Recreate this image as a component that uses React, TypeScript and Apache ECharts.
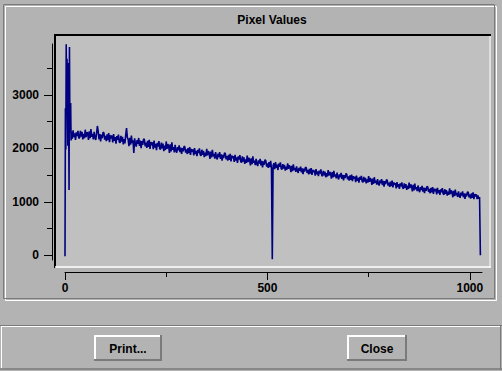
import React, { useEffect, useRef } from "react";
import * as echarts from "echarts";

// Pixel values
// first samples (x = 0 .. 15, one per pixel index)
const headValues = [-20, 2750, 1980, 3950, 2600, 3680, 2900, 2050, 3600, 2700, 1220, 3900, 2500, 2300, 2850, 2150];
// sampled body (x = 16, 18, 20, ... 1024)
const BODY_START = 16;
const BODY_STEP = 2;
const bodyValues = [
  2310, 2180, 2340, 2210, 2280, 2160, 2300, 2230, 2330, 2190,
  2200, 2330, 2220, 2310, 2170, 2270, 2190, 2350, 2210, 2300,
  2290, 2160, 2320, 2190, 2360, 2220, 2270, 2170, 2310, 2200,
  2160, 2280, 2420, 2320, 2170, 2270, 2130, 2260, 2190, 2300,
  2295, 2165, 2235, 2135, 2265, 2155, 2285, 2115, 2245, 2185,
  2240, 2110, 2270, 2140, 2210, 2090, 2230, 2160, 2260, 2120,
  2105, 2235, 2125, 2215, 2075, 2175, 2095, 2255, 2380, 2205,
  2170, 2040, 2200, 2070, 2240, 2100, 2150, 1915, 2190, 2080,
  2035, 2155, 2085, 2195, 2045, 2145, 2005, 2135, 2065, 2175,
  2170, 2040, 2110, 2010, 2140, 2030, 2160, 1990, 2120, 2060,
  2115, 1985, 2145, 2015, 2085, 1965, 2105, 2035, 2135, 1995,
  1980, 2110, 2000, 2090, 1950, 2050, 1970, 2130, 1990, 2080,
  2045, 1915, 2075, 1945, 2115, 1975, 2025, 1925, 2065, 1955,
  1920, 2025, 1965, 2055, 1930, 2015, 1895, 2005, 1945, 2040,
  2030, 1920, 1980, 1895, 2005, 1910, 2025, 1880, 1990, 1940,
  1980, 1870, 2005, 1895, 1955, 1855, 1975, 1915, 2000, 1880,
  1860, 1975, 1880, 1955, 1835, 1920, 1855, 1990, 1870, 1950,
  1915, 1805, 1940, 1830, 1975, 1855, 1895, 1810, 1930, 1835,
  1795, 1900, 1840, 1930, 1805, 1890, 1770, 1880, 1820, 1915,
  1905, 1795, 1855, 1770, 1880, 1785, 1900, 1755, 1865, 1815,
  1855, 1745, 1880, 1770, 1830, 1730, 1850, 1790, 1875, 1755,
  1735, 1850, 1755, 1830, 1710, 1795, 1730, 1865, 1745, 1825,
  1790, 1680, 1815, 1705, 1850, 1730, 1770, 1685, 1805, 1710,
  1670, 1775, 1715, 1805, 1680, 1765, 1645, 1755, 1695, 1790,
  1770, 1660, 1720, 1635, 1745, 1650, 1765, 1620, -75, 1680,
  1720, 1610, 1745, 1635, 1695, 1595, 1715, 1655, 1740, 1620,
  1605, 1705, 1620, 1690, 1585, 1660, 1600, 1720, 1615, 1685,
  1650, 1555, 1675, 1575, 1700, 1595, 1635, 1560, 1665, 1580,
  1540, 1635, 1580, 1660, 1550, 1625, 1520, 1620, 1565, 1650,
  1635, 1540, 1595, 1515, 1615, 1530, 1630, 1505, 1600, 1555,
  1590, 1490, 1610, 1515, 1570, 1480, 1585, 1530, 1605, 1500,
  1480, 1580, 1495, 1565, 1460, 1535, 1475, 1595, 1490, 1560,
  1530, 1435, 1555, 1455, 1580, 1475, 1515, 1440, 1545, 1460,
  1420, 1515, 1460, 1540, 1430, 1505, 1400, 1500, 1445, 1530,
  1515, 1420, 1475, 1395, 1495, 1410, 1510, 1385, 1480, 1435,
  1470, 1370, 1490, 1395, 1450, 1360, 1465, 1410, 1485, 1380,
  1365, 1465, 1380, 1450, 1345, 1420, 1360, 1480, 1375, 1445,
  1410, 1315, 1435, 1335, 1460, 1355, 1395, 1320, 1425, 1340,
  1305, 1400, 1345, 1425, 1315, 1390, 1285, 1385, 1330, 1415,
  1400, 1305, 1360, 1280, 1380, 1295, 1395, 1270, 1365, 1320,
  1350, 1250, 1370, 1275, 1330, 1240, 1345, 1290, 1365, 1260,
  1245, 1345, 1260, 1330, 1225, 1300, 1240, 1360, 1255, 1325,
  1290, 1195, 1315, 1215, 1340, 1235, 1275, 1200, 1305, 1220,
  1180, 1275, 1220, 1300, 1190, 1265, 1160, 1260, 1205, 1290,
  1280, 1185, 1240, 1160, 1260, 1175, 1275, 1150, 1245, 1200,
  1240, 1140, 1260, 1165, 1220, 1130, 1235, 1180, 1255, 1150,
  1135, 1235, 1150, 1220, 1115, 1190, 1130, 1250, 1145, 1215,
  1180, 1085, 1205, 1105, 1230, 1125, 1165, 1090, 1195, 1110,
  1075, 1170, 1115, 1195, 1085, 1160, 1055, 1155, 1100, 1185,
  1180, 1085, 1140, 1060, 1160, 1075, 1175, 1050, 1145, 1100,
  1140, 1050, 1120, 1060, 1090,
];
const tailX = [1026];
const tailValues = [0];

const yMajorTicks = [0, 1000, 2000, 3000];
const yMinorTicks = [500, 1500, 2500, 3500];
const xMajorTicks = [0, 500, 1000];
const xMinorTicks = [250, 750];

const TITLE = "Pixel Values";
const BUTTONS = ["Print...", "Close"];

const FONT = "Liberation Sans, Arial, Helvetica, sans-serif";
const BG = "#b3b3b3";
const DARK = "#7a7a7a";
const WHITE = "#ffffff";

function line(x1: number, y1: number, x2: number, y2: number, stroke: string, lineWidth = 1) {
  return { type: "line", z: -5, silent: true, shape: { x1, y1, x2, y2 }, style: { stroke, lineWidth } };
}

function button(x: number, y: number, w: number, h: number, label: string) {
  return [
    line(x, y + 1, x + w, y + 1, WHITE, 2),
    line(x + 1, y, x + 1, y + h, WHITE, 2),
    line(x, y + h - 1, x + w, y + h - 1, DARK, 2),
    line(x + w - 1, y, x + w - 1, y + h, DARK, 2),
    {
      type: "text",
      x: x + w / 2,
      y: y + h / 2 + 0.5,
      style: { text: label, fontFamily: FONT, fontWeight: "bold", fontSize: 12, fill: "#000", align: "center", verticalAlign: "middle" },
    },
  ];
}

export default function App() {
  const ref = useRef<HTMLDivElement>(null);
  useEffect(() => {
    if (!ref.current) return;
    const chart = echarts.init(ref.current, undefined, { renderer: "svg" });
    const data: number[][] = [
      ...headValues.map((v, i) => [i, v]),
      ...bodyValues.map((v, i) => [BODY_START + i * BODY_STEP, v]),
      ...tailX.map((x, i) => [x, tailValues[i]]),
    ];
    const labelStyle = { color: "#000", fontFamily: FONT, fontWeight: "bold", fontSize: 12 };
    const fmt = (v: number) => String(v);
    chart.setOption({
      animation: false,
      backgroundColor: BG,
      grid: { left: 65, right: 20, top: 44, bottom: 111, containLabel: false },
      xAxis: [
        {
          type: "value", min: 0, max: 1030, position: "bottom", offset: 12,
          axisLine: { show: true, onZero: false, lineStyle: { color: "#000", width: 1 } },
          axisTick: { show: true, inside: false, length: 8, customValues: xMajorTicks, lineStyle: { color: "#000" } },
          axisLabel: { show: true, margin: 10, customValues: xMajorTicks, formatter: fmt, ...labelStyle },
          splitLine: { show: false },
        },
        {
          type: "value", min: 0, max: 1030, position: "bottom", offset: 12,
          axisLine: { show: false, onZero: false },
          axisTick: { show: true, inside: false, length: 5, customValues: xMinorTicks, lineStyle: { color: "#000" } },
          axisLabel: { show: false },
          splitLine: { show: false },
        },
      ],
      yAxis: [
        {
          type: "value", min: -90, max: 3955, position: "left", offset: 13,
          axisLine: { show: true, onZero: false, lineStyle: { color: "#000", width: 1 } },
          axisTick: { show: true, inside: false, length: 8, customValues: yMajorTicks, lineStyle: { color: "#000" } },
          axisLabel: { show: true, margin: 13, customValues: yMajorTicks, formatter: fmt, ...labelStyle },
          splitLine: { show: false },
        },
        {
          type: "value", min: -90, max: 3955, position: "left", offset: 13,
          axisLine: { show: false, onZero: false },
          axisTick: { show: true, inside: false, length: 5, customValues: yMinorTicks, lineStyle: { color: "#000" } },
          axisLabel: { show: false },
          splitLine: { show: false },
        },
      ],
      graphic: {
        elements: [
          // outer etched frame
          { type: "rect", z: -6, silent: true, shape: { x: 5.5, y: 6.5, width: 491, height: 294 }, style: { fill: "none", stroke: WHITE, lineWidth: 1 } },
          { type: "rect", z: -6, silent: true, shape: { x: 3.5, y: 4.5, width: 491, height: 294 }, style: { fill: "none", stroke: DARK, lineWidth: 1 } },
          // plot panel
          { type: "rect", z: -5, silent: true, shape: { x: 54, y: 34, width: 437, height: 234 }, style: { fill: "#c0c0c0" } },
          line(54, 35, 491, 35, "#000", 2),
          line(55, 34, 55, 268, "#000", 2),
          line(55, 267, 491, 267, WHITE, 1.5),
          line(490, 36, 490, 268, WHITE, 1),
          // title
          {
            type: "text", x: 272, y: 20,
            style: { text: TITLE, fontFamily: FONT, fontWeight: "bold", fontSize: 12, fill: "#000", align: "center", verticalAlign: "middle" },
          },
          // button bar
          line(0, 325.5, 502, 325.5, DARK, 1),
          line(1, 326.5, 501, 326.5, WHITE, 1),
          line(1.5, 326, 1.5, 369, WHITE, 1),
          line(0, 369, 502, 369, DARK, 1.5),
          line(500.5, 326, 500.5, 370, DARK, 1),
          ...button(94, 335, 68, 26, BUTTONS[0]),
          ...button(347, 335, 60, 26, BUTTONS[1]),
        ],
      },
      series: [
        {
          type: "line",
          xAxisIndex: 0,
          yAxisIndex: 0,
          data,
          showSymbol: false,
          symbol: "none",
          lineStyle: { color: "#000080", width: 1.6 },
          z: 3,
        },
      ],
    });
    return () => chart.dispose();
  }, []);
  return <div ref={ref} style={{ position: "fixed", left: 0, top: 0, width: 502, height: 371 }} />;
}
